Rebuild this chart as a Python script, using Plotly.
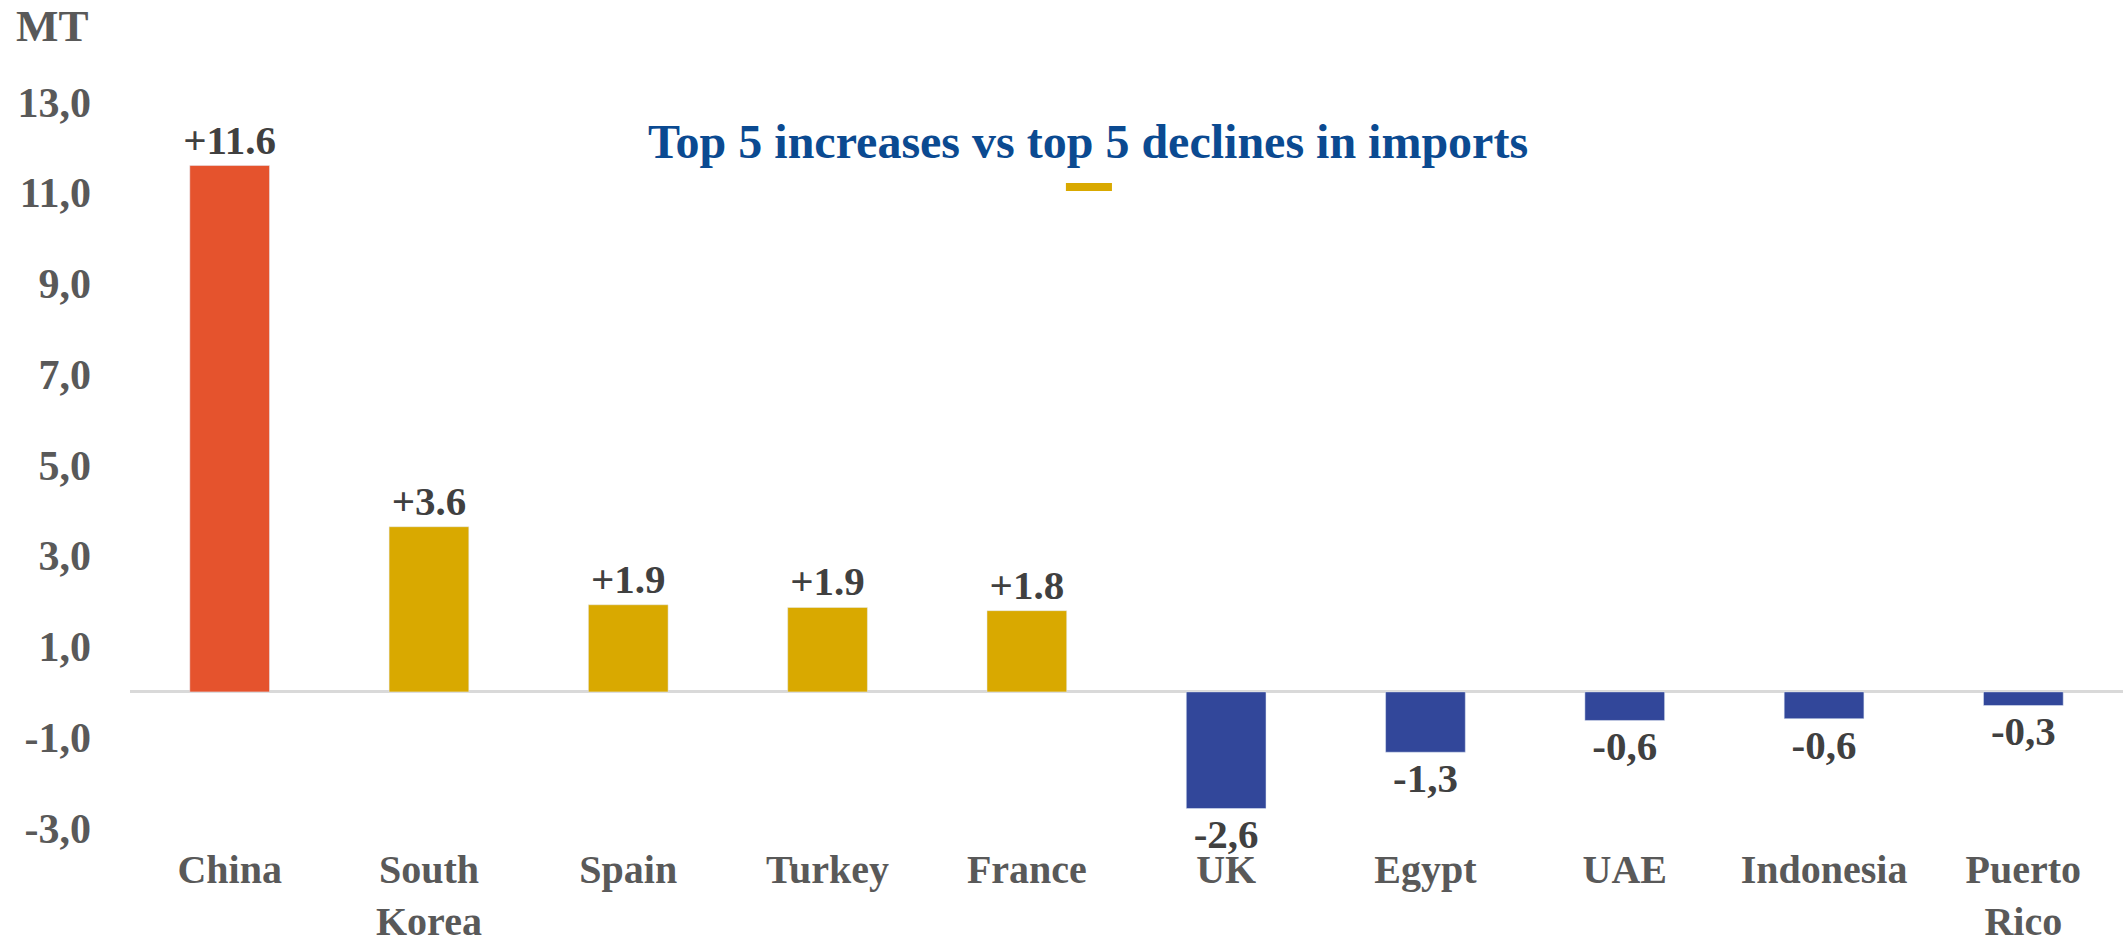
import plotly.graph_objects as go

categories = ["China", "South<br>Korea", "Spain", "Turkey", "France",
              "UK", "Egypt", "UAE", "Indonesia", "Puerto<br>Rico"]
values = [11.6, 3.64, 1.92, 1.86, 1.79, -2.57, -1.33, -0.63, -0.59, -0.30]
labels = ["+11.6", "+3.6", "+1.9", "+1.9", "+1.8", "-2,6", "-1,3", "-0,6", "-0,6", "-0,3"]
colors = ["#E5532D", "#D9A900", "#D9A900", "#D9A900", "#D9A900",
          "#32479A", "#32479A", "#32479A", "#32479A", "#32479A"]
y_ticks = [-3, -1, 1, 3, 5, 7, 9, 11, 13]
y_tick_text = ["-3,0", "-1,0", "1,0", "3,0", "5,0", "7,0", "9,0", "11,0", "13,0"]
title_text = "Top 5 increases vs top 5 declines in imports"

SERIF = "Liberation Serif"

fig = go.Figure(go.Bar(
    x=categories, y=values, text=labels, marker_color=colors,
    textposition="outside", constraintext="none", cliponaxis=False,
    textfont=dict(family=SERIF, size=41, color="#404040", weight="bold"),
    hoverinfo="skip",
))

fig.update_layout(
    width=2123, height=944,
    margin=dict(l=130, r=0, t=102, b=116),
    paper_bgcolor="white", plot_bgcolor="white",
    bargap=0.6, showlegend=False,
    xaxis=dict(showgrid=False, showline=False, zeroline=False, automargin=False,
               tickfont=dict(family=SERIF, size=40, color="#595959", weight="bold"),
               ticklabelstandoff=14),
    yaxis=dict(range=[-3, 13], tickvals=y_ticks, ticktext=y_tick_text,
               showgrid=False, showline=False, automargin=False,
               zeroline=True, zerolinecolor="#D9D9D9", zerolinewidth=2.5,
               tickfont=dict(family=SERIF, size=42, color="#595959", weight="bold"),
               ticklabelstandoff=38),
    annotations=[
        dict(text="MT", xref="paper", yref="paper", x=0, y=1.104,
             xanchor="right", yanchor="middle", xshift=-39, showarrow=False,
             font=dict(family=SERIF, size=45, color="#595959", weight="bold")),
        dict(text=title_text, xref="paper", yref="paper", x=0.4805, y=0.946,
             xanchor="center", yanchor="middle", showarrow=False,
             font=dict(family=SERIF, size=48, color="#0B4A91", weight="bold")),
    ],
    shapes=[
        dict(type="rect", xref="paper", yref="paper", x0=0.4696, x1=0.4927,
             y0=0.8775, y1=0.8885, fillcolor="#D9A900", line_width=0),
    ],
)

fig.write_html("out.html", config={"displayModeBar": False},
               post_script="document.body.style.margin='0';document.body.style.overflow='hidden';")
